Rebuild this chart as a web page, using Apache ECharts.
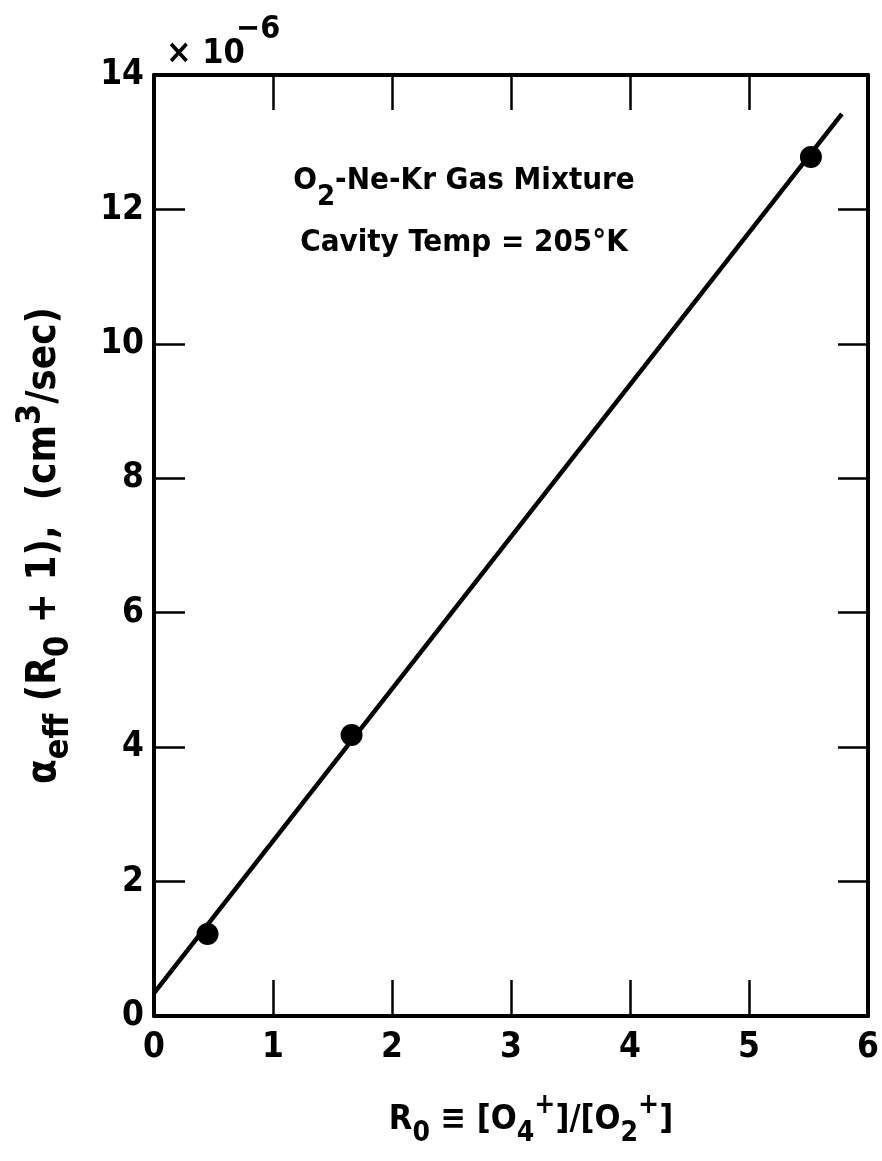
<!DOCTYPE html>
<html>
<head>
<meta charset="utf-8">
<script src="https://cdn.jsdelivr.net/npm/echarts@6/dist/echarts.min.js"></script>
<style>html,body{margin:0;padding:0;background:#fff;}#c{width:882px;height:1161px;}</style>
</head>
<body>
<div id="c"></div>
<script>
// Measured points
var pointX = [0.45, 1.66, 5.52];
var pointY = [1.22, 4.18, 12.78];
// Fitted line endpoints
var lineX = [0, 5.78];
var lineY = [0.34, 13.42];
var xTicks = [0, 1, 2, 3, 4, 5, 6];
var yTicks = [0, 2, 4, 6, 8, 10, 12, 14];

var FONT = "'Liberation Sans Narrow', 'DejaVu Sans Condensed', 'Open Sans', sans-serif";
var chart = echarts.init(document.getElementById('c'), null, {renderer: 'canvas'});

var axisLine = {show: true, onZero: false, lineStyle: {color: '#000', width: 4}};
var tickStyle = {color: '#000', width: 2.5};

var option = {
  backgroundColor: '#fff',
  animation: false,
  grid: {left: 154, right: 7, top: 75, bottom: 145},
  xAxis: [{
    type: 'value', min: 0, max: 6, interval: 1, position: 'bottom',
    axisLine: axisLine,
    axisTick: {show: true, inside: true, length: 36, lineStyle: tickStyle},
    splitLine: {show: false},
    axisLabel: {margin: 14, color: '#000', fontSize: 35, fontWeight: 'bold', fontFamily: FONT,
      formatter: function (v) { return xTicks.indexOf(v) >= 0 ? String(v) : ''; }},
    name: '{n|R}{sb|0}{n| ≡ [O}{sb|4}{sp|+}{n|]/[O}{sb|2}{sp|+}{n|]}',
    nameLocation: 'middle', nameGap: 76,
    nameTextStyle: {
      color: '#000', fontFamily: FONT, fontWeight: 'bold', fontSize: 34, lineHeight: 56,
      padding: [0, 0, 0, 40],
      rich: {
        n: {fontSize: 34, fontWeight: 'bold', fontFamily: FONT, color: '#000'},
        sb: {fontSize: 28, fontWeight: 'bold', fontFamily: FONT, color: '#000', verticalAlign: 'bottom', lineHeight: 28},
        sp: {fontSize: 28, fontWeight: 'bold', fontFamily: FONT, color: '#000', verticalAlign: 'top', lineHeight: 28}
      }
    }
  }, {
    type: 'value', min: 0, max: 6, interval: 1, position: 'top',
    axisLine: axisLine,
    axisTick: {show: true, inside: true, length: 35, lineStyle: tickStyle},
    splitLine: {show: false},
    axisLabel: {show: false}
  }],
  yAxis: [{
    type: 'value', min: 0, max: 14, interval: 2, position: 'left',
    axisLine: axisLine,
    axisTick: {show: true, inside: true, length: 31, lineStyle: tickStyle},
    splitLine: {show: false},
    axisLabel: {margin: 10, color: '#000', fontSize: 35, fontWeight: 'bold', fontFamily: FONT,
      formatter: function (v) { return yTicks.indexOf(v) >= 0 ? String(v) : ''; }},
    name: '{n|α}{sb|eff}{n| (R}{sb|0}{n| + 1),  (cm}{sp|3}{n|/sec)}',
    nameLocation: 'middle', nameRotate: 90, nameGap: 78,
    nameTextStyle: {
      color: '#000', fontFamily: FONT, fontWeight: 'bold', fontSize: 40, lineHeight: 62,
      padding: [0, 0, 0, 0],
      rich: {
        n: {fontSize: 40, fontWeight: 'bold', fontFamily: FONT, color: '#000'},
        sb: {fontSize: 34, fontWeight: 'bold', fontFamily: FONT, color: '#000', verticalAlign: 'bottom', lineHeight: 34},
        sp: {fontSize: 34, fontWeight: 'bold', fontFamily: FONT, color: '#000', verticalAlign: 'top', lineHeight: 34}
      }
    }
  }, {
    type: 'value', min: 0, max: 14, interval: 2, position: 'right',
    axisLine: axisLine,
    axisTick: {show: true, inside: true, length: 30, lineStyle: tickStyle},
    splitLine: {show: false},
    axisLabel: {show: false}
  }],
  graphic: [{
    type: 'text', x: 166, y: 54,
    style: {
      text: '× 10', fill: '#000', fontSize: 34, fontWeight: 'bold', fontFamily: FONT,
      align: 'left', verticalAlign: 'middle'
    }
  }, {
    type: 'text', x: 236, y: 30,
    style: {
      text: '−6', fill: '#000', fontSize: 32, fontWeight: 'bold', fontFamily: FONT,
      align: 'left', verticalAlign: 'middle'
    }
  }, {
    type: 'text', x: 464, y: 150,
    style: {
      text: '{n|O}{sb|2}{n|-Ne-Kr Gas Mixture}\n{n|Cavity Temp = 205°K}',
      align: 'center', verticalAlign: 'top',
      fill: '#000',
      lineHeight: 62,
      rich: {
        n: {fontSize: 31, fontWeight: 'bold', fontFamily: FONT, fill: '#000', lineHeight: 62},
        sb: {fontSize: 29, fontWeight: 'bold', fontFamily: FONT, fill: '#000', verticalAlign: 'bottom', lineHeight: 30}
      }
    }
  }],
  series: [{
    type: 'line',
    data: lineX.map(function (x, i) { return [x, lineY[i]]; }),
    showSymbol: false,
    lineStyle: {color: '#000', width: 4.5},
    z: 3
  }, {
    type: 'scatter',
    data: pointX.map(function (x, i) { return [x, pointY[i]]; }),
    symbol: 'circle', symbolSize: 22,
    itemStyle: {color: '#000', opacity: 1},
    z: 4
  }]
};
chart.setOption(option);
</script>
</body>
</html>
